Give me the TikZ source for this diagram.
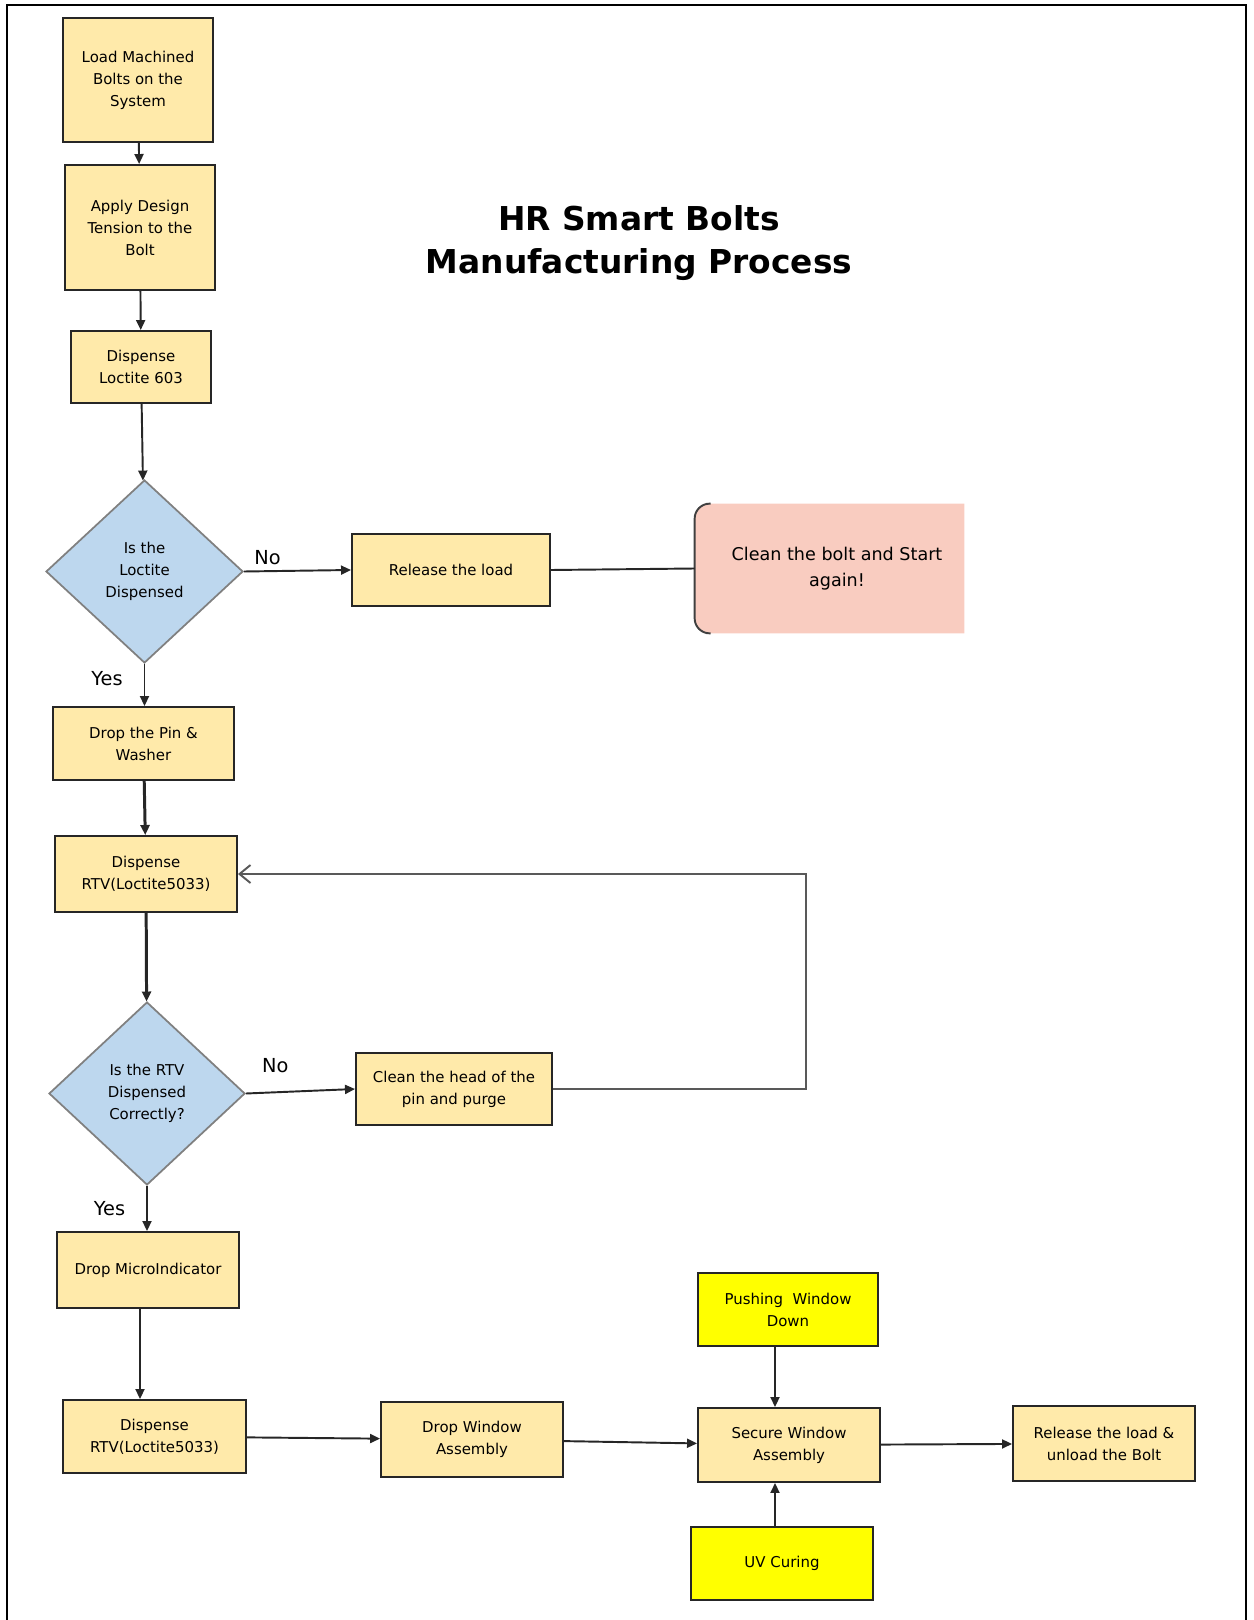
\documentclass[tikz,border=0pt]{standalone}
\usepackage{fontspec}
\setmainfont{DejaVu Sans}
\usepackage{tikz}
\usetikzlibrary{arrows.meta,backgrounds,shapes.geometric}
\definecolor{stepfill}{RGB}{255,234,170}
\definecolor{askfill}{RGB}{189,215,238}
\definecolor{cleanfill}{RGB}{249,204,192}
\definecolor{hotfill}{RGB}{255,255,0}

\begin{document}
\begin{tikzpicture}[font=\fontsize{8.5}{12.5}\selectfont,
 stepbox/.style={draw=black!85,line width=1.1pt,fill=stepfill,align=center,inner sep=1pt},
 hotbox/.style={stepbox,fill=hotfill},
 ask/.style={diamond,draw=black!50,line width=1pt,fill=askfill,align=center,inner sep=0pt,minimum width=3.94cm,minimum height=3.66cm},
 arr/.style={line width=1.1pt,draw=black!85,-{Triangle[length=2mm,width=1.8mm]}},
 thick arr/.style={arr,line width=1.7pt},
 back/.style={line width=1.1pt,draw=black!65,-{Straight Barb[length=2.2mm,width=3.6mm]}},
 tag/.style={font=\fontsize{11}{13}\selectfont}]
\useasboundingbox (0,0) rectangle (25.06,-32.4);
\draw[line width=1.5pt] (0.14,-32.4) -- (0.14,-0.1) -- (24.92,-0.1) -- (24.92,-32.4);
\node[align=center,font=\fontsize{18.7}{24}\bfseries] (title) at (12.78,-4.86) {HR Smart Bolts\\Manufacturing Process};
\node[stepbox,minimum width=3cm,minimum height=2.48cm] (load) at (2.76,-1.6) {Load Machined\\Bolts on the\\System};
\node[stepbox,minimum width=3cm,minimum height=2.5cm] (tension) at (2.8,-4.55) {Apply Design\\Tension to the\\Bolt};
\node[stepbox,minimum width=2.8cm,minimum height=1.44cm] (loctite) at (2.82,-7.34) {Dispense\\Loctite 603};
\node[ask] (askloctite) at (2.89,-11.43) {Is the\\Loctite\\Dispensed};
\node[stepbox,minimum width=3.96cm,minimum height=1.44cm] (release) at (9.02,-11.4) {Release the load};
\node[minimum width=5.38cm,minimum height=2.58cm,align=center,font=\fontsize{10}{14.5}\selectfont] (restart) at (16.59,-11.37) {\hspace*{3mm}Clean the bolt and Start\\\hspace*{3mm}again!};
\node[stepbox,minimum width=3.62cm,minimum height=1.46cm] (pin) at (2.87,-14.87) {Drop the Pin \&\\Washer};
\node[stepbox,minimum width=3.64cm,minimum height=1.52cm] (rtvone) at (2.92,-17.48) {Dispense\\RTV(Loctite5033)};
\node[ask,minimum width=3.92cm] (askrtv) at (2.94,-21.87) {Is the RTV\\Dispensed\\Correctly?};
\node[stepbox,minimum width=3.92cm,minimum height=1.44cm] (purge) at (9.08,-21.78) {Clean the head of the\\pin and purge};
\node[stepbox,minimum width=3.64cm,minimum height=1.52cm] (micro) at (2.96,-25.4) {Drop MicroIndicator};
\node[stepbox,minimum width=3.66cm,minimum height=1.46cm] (rtvtwo) at (3.09,-28.73) {Dispense\\RTV(Loctite5033)};
\node[stepbox,minimum width=3.64cm,minimum height=1.5cm] (window) at (9.44,-28.79) {Drop Window\\Assembly};
\node[stepbox,minimum width=3.64cm,minimum height=1.48cm] (secure) at (15.78,-28.9) {Secure Window\\Assembly};
\node[hotbox,minimum width=3.6cm,minimum height=1.46cm] (push) at (15.76,-26.19) {Pushing\ \ Window\\Down};
\node[hotbox,minimum width=3.64cm,minimum height=1.46cm] (uv) at (15.64,-31.27) {UV Curing};
\node[stepbox,minimum width=3.64cm,minimum height=1.5cm] (unload) at (22.08,-28.87) {Release the load \&\\unload the Bolt};
\coordinate (loopc) at (16.12,-17.48);
\begin{scope}[on background layer]
\fill[cleanfill] (restart.north east) [rounded corners=3mm] -- (restart.north west) -- (restart.south west) [sharp corners] -- (restart.south east) -- cycle;
\end{scope}
\draw[line width=1.1pt,black!75,rounded corners=3mm] ([xshift=3.2mm]restart.north west) -- (restart.north west) -- (restart.south west) -- ([xshift=3.2mm]restart.south west);
\draw[arr] (load) -- (tension);
\draw[arr] (tension) -- (loctite);
\draw[arr] (loctite) -- (askloctite);
\draw[arr] (askloctite.east) -- node[tag,pos=0.22,above]{No} (release.west);
\draw[line width=1.1pt,black!85] (release.east) -- (restart.west);
\draw[arr] (askloctite.south) -- node[tag,pos=0.35,left=3mm]{Yes} (pin.north -| askloctite.south);
\draw[thick arr] (pin) -- (rtvone);
\draw[thick arr] (rtvone) -- (askrtv);
\draw[arr] (askrtv.east) -- node[tag,pos=0.27,above=2.5mm]{No} (purge.west);
\draw[back] (purge.east) -| (loopc) -- (rtvone.east);
\draw[arr] (askrtv.south) -- node[tag,pos=0.5,left=3mm]{Yes} (micro.north -| askrtv.south);
\draw[arr] ([xshift=-1.6mm]micro.south) -- ([xshift=-1.6mm]micro.south |- rtvtwo.north);
\draw[arr] (rtvtwo) -- (window);
\draw[arr] (window) -- (secure);
\draw[arr] ([xshift=-2.6mm]push.south) -- ([xshift=-2.6mm]push.south |- secure.north);
\draw[arr] ([xshift=-1.4mm]uv.north) -- ([xshift=-1.4mm]uv.north |- secure.south);
\draw[arr] (secure) -- (unload);
\end{tikzpicture}
\end{document}
